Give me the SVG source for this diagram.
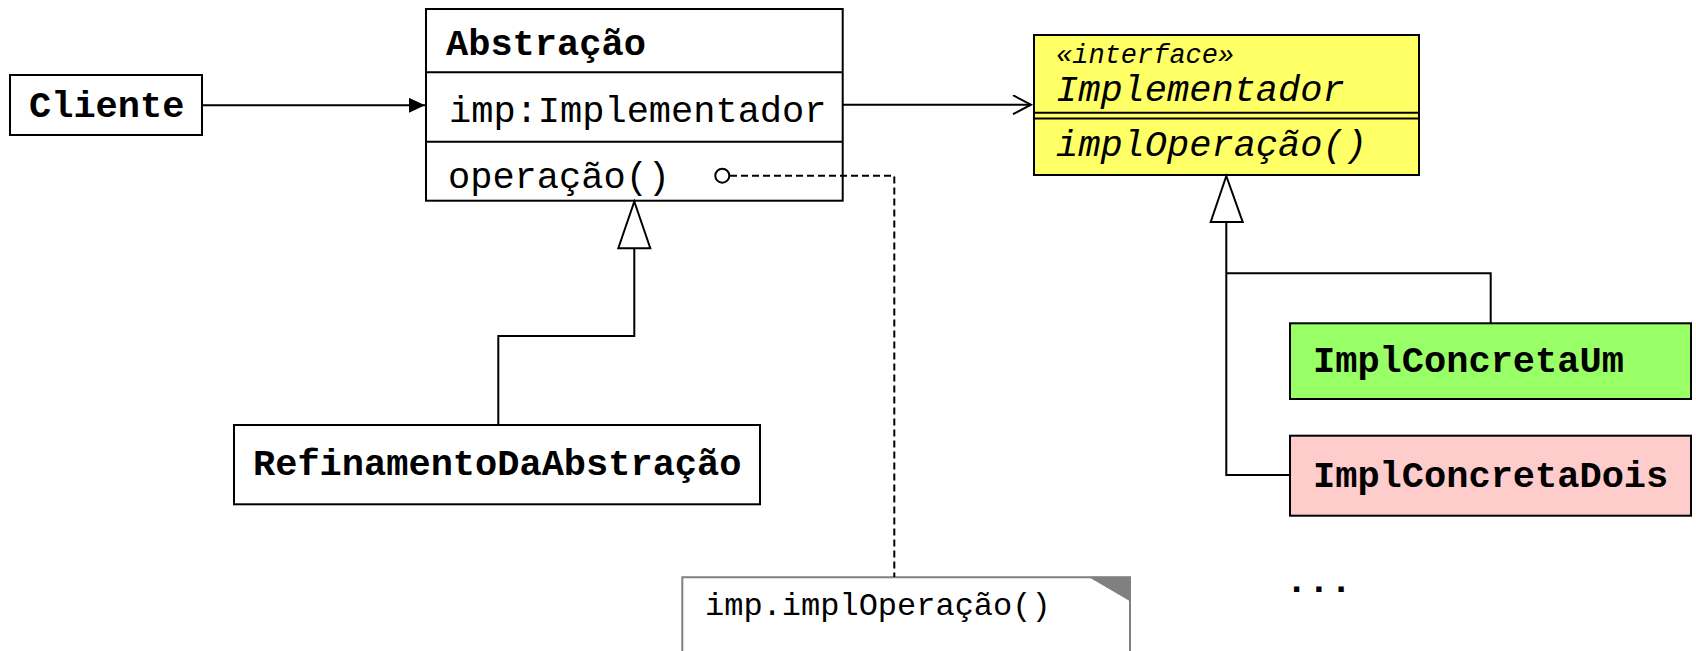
<svg xmlns="http://www.w3.org/2000/svg" width="1696" height="651" viewBox="0 0 1696 651">
<defs>
<style>
.box{stroke:#000;stroke-width:2;}
.ln{fill:none;stroke:#000;stroke-width:2;}
.dash{fill:none;stroke:#000;stroke-width:2;stroke-dasharray:7 4;}
.t{font-family:"Liberation Mono","Courier New",monospace;font-size:37px;fill:#000;}
.b{font-weight:bold;}
.i{font-style:italic;}
</style>
<marker id="filled" markerWidth="18" markerHeight="16" refX="16" refY="7.5" orient="auto" markerUnits="userSpaceOnUse">
<path d="M0,0 L16,7.5 L0,15 Z" fill="#000"/>
</marker>
<marker id="open" markerWidth="22" markerHeight="24" refX="19" refY="10" orient="auto" markerUnits="userSpaceOnUse">
<path d="M1,0.5 L19,10 L1,19.5" fill="none" stroke="#000" stroke-width="2"/>
</marker>
</defs>
<rect width="1696" height="651" fill="#fff"/>

<g id="cliente">
<rect class="box" x="10" y="75" width="192" height="60" fill="#fff"/>
<text class="t b" x="29" y="117">Cliente</text>
</g>

<g id="abstracao">
<rect class="box" x="426" y="9" width="416.7" height="191.7" fill="#fff"/>
<path class="ln" d="M426,72.3 H842.7 M426,141.7 H842.7"/>
<text class="t b" x="446" y="55">Abstração</text>
<text class="t" x="449" y="122">imp:Implementador</text>
<text class="t" x="448" y="188">operação()</text>
</g>

<g id="refinamento">
<rect class="box" x="234" y="425" width="526" height="79.3" fill="#fff"/>
<text class="t b" x="253" y="475">RefinamentoDaAbstração</text>
</g>

<g id="implementador">
<rect class="box" x="1034" y="35" width="385" height="140" fill="#ffff66"/>
<path class="ln" d="M1034,112.7 H1419 M1034,118.5 H1419"/>
<text class="t i" x="1056" y="63" style="font-size:27px">«interface»</text>
<text class="t i" x="1056" y="101">Implementador</text>
<text class="t i" x="1056" y="156">implOperação()</text>
</g>

<g id="implConcretaUm">
<rect class="box" x="1290" y="323.3" width="401" height="75.7" fill="#99ff66"/>
<text class="t b" x="1313" y="372">ImplConcretaUm</text>
</g>

<g id="implConcretaDois">
<rect class="box" x="1290" y="435.7" width="401" height="80" fill="#ffcccc"/>
<text class="t b" x="1313" y="487">ImplConcretaDois</text>
</g>

<g id="reticencias">
<text class="t b" x="1285.5" y="592">...</text>
</g>

<g id="nota">
<path d="M682.3,660 V577.3 H1130 V660" fill="#fff" stroke="#808080" stroke-width="2"/>
<path d="M1090,577.3 H1130 V600.7 Z" fill="#808080" stroke="#808080" stroke-width="1"/>
<text class="t" x="705" y="615" style="font-size:32px">imp.implOperação()</text>
</g>

<g id="connectors">
<path class="ln" d="M202,105.3 H425" marker-end="url(#filled)"/>
<path class="ln" d="M843,104.7 H1031" marker-end="url(#open)"/>
<path class="ln" d="M498.3,425 V336 H634.3 V248.3"/>
<path d="M634.3,201.5 L618.3,248.3 L650.3,248.3 Z" fill="#fff" stroke="#000" stroke-width="2"/>
<path class="ln" d="M1490.7,323.3 V273.3 H1226.3 M1290,475 H1226.3 V222"/>
<path d="M1226.3,176 L1210.7,222 L1242.7,222 Z" fill="#fff" stroke="#000" stroke-width="2"/>
<path class="dash" d="M730,175.7 H894.3 V577"/>
<circle cx="722.3" cy="175.7" r="7" fill="#fff" stroke="#000" stroke-width="2"/>
</g>
</svg>
